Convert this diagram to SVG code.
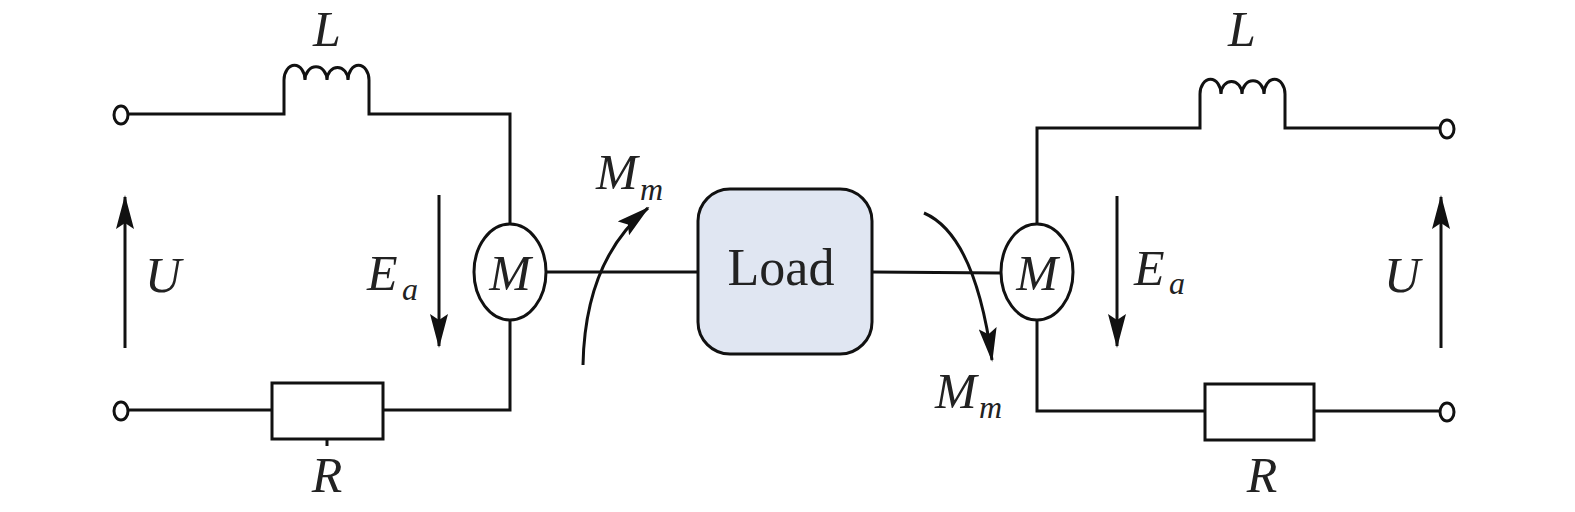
<svg xmlns="http://www.w3.org/2000/svg" width="1575" height="512" viewBox="0 0 1575 512">
<style>
.w{fill:none;stroke:#111;stroke-width:3}
.t{font-family:"Liberation Serif",serif;font-style:italic;fill:#222}
</style>
<defs>
<marker id="ah" viewBox="0 0 34 18" refX="32" refY="9" markerWidth="34" markerHeight="18" markerUnits="userSpaceOnUse" orient="auto"><path d="M0,0L34,9L0,18L6,9z" fill="#111"/></marker>
</defs>
<rect width="1575" height="512" fill="#fff"/>
<g id="left">
<ellipse cx="121" cy="115" rx="7" ry="9" class="w"/>
<path class="w" d="M128,114H284V80A10,14 0 0 1 305,80A10,12 0 0 1 327,80A10,12 0 0 1 348,80A10,14 0 0 1 369,80V114H510V223"/>
<path class="w" d="M510,321V410H383M272,410H128"/>
<rect x="272" y="383" width="111" height="56" class="w"/>
<line x1="327" y1="439" x2="327" y2="446" class="w"/>
<ellipse cx="121" cy="411" rx="7" ry="9" class="w"/>
<ellipse cx="510" cy="272" rx="36" ry="48" class="w"/>
<text x="510" y="290" text-anchor="middle" font-size="50" class="t">M</text>
<text x="327" y="46" text-anchor="middle" font-size="50" class="t">L</text>
<text x="327" y="492" text-anchor="middle" font-size="50" class="t">R</text>
<text x="145" y="292" font-size="50" class="t">U</text>
<text x="367" y="290" font-size="50" class="t">E</text><text x="402" y="300" font-size="32" class="t">a</text>
</g>
<g id="load">
<rect x="698" y="189" width="174" height="165" rx="32" fill="#e0e6f2" stroke="#111" stroke-width="3"/>
<text x="781" y="285" text-anchor="middle" font-size="52" font-family="Liberation Serif,serif" fill="#222">Load</text>
</g>
<g id="right">
<ellipse cx="1037" cy="272" rx="36" ry="48" class="w"/>
<text x="1037" y="290" text-anchor="middle" font-size="50" class="t">M</text>
<path class="w" d="M1037,223V128H1200V94A10,14 0 0 1 1221,94A10,12 0 0 1 1242,94A10,12 0 0 1 1264,94A10,14 0 0 1 1285,94V128H1440"/>
<ellipse cx="1447" cy="129" rx="7" ry="9" class="w"/>
<path class="w" d="M1037,321V411H1205M1314,411H1440"/>
<rect x="1205" y="384" width="109" height="56" class="w"/>
<ellipse cx="1447" cy="412" rx="7" ry="9" class="w"/>
<text x="1242" y="46" text-anchor="middle" font-size="50" class="t">L</text>
<text x="1262" y="492" text-anchor="middle" font-size="50" class="t">R</text>
<text x="1384" y="292" font-size="50" class="t">U</text>
<text x="1134" y="285" font-size="50" class="t">E</text><text x="1169" y="294" font-size="32" class="t">a</text>
</g>
<g id="connectors">
<line x1="546" y1="272" x2="698" y2="272" class="w"/>
<line x1="872" y1="272" x2="1001" y2="273" class="w"/>
<line x1="125" y1="348" x2="125" y2="197" class="w" marker-end="url(#ah)"/>
<line x1="439" y1="195" x2="439" y2="346" class="w" marker-end="url(#ah)"/>
<line x1="1441" y1="348" x2="1441" y2="197" class="w" marker-end="url(#ah)"/>
<line x1="1117" y1="196" x2="1117" y2="346" class="w" marker-end="url(#ah)"/>
<path class="w" d="M583,365Q585,260 648,208" marker-end="url(#ah)"/>
<path class="w" d="M924,213Q975,235 992,360" marker-end="url(#ah)"/>
<text x="596" y="189" font-size="50" class="t">M</text><text x="640" y="200" font-size="32" class="t">m</text>
<text x="935" y="408" font-size="50" class="t">M</text><text x="979" y="418" font-size="32" class="t">m</text>
</g>
</svg>
